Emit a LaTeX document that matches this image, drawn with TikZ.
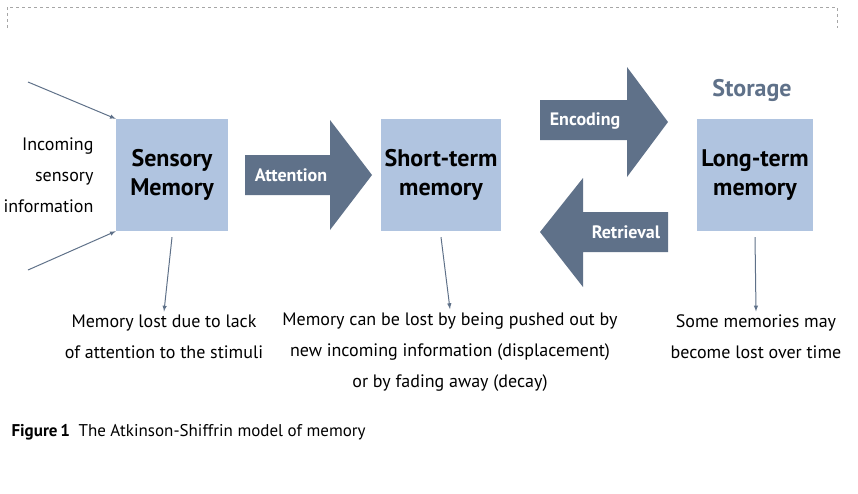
\documentclass[tikz,border=0pt]{standalone}
\usepackage{fontspec}
\setmainfont{PT Sans}
\usetikzlibrary{positioning}
\definecolor{boxblue}{HTML}{B0C4E0}
\definecolor{slate}{HTML}{5F7189}
\begin{document}
\begin{tikzpicture}[x=1pt,y=-1pt,
	memory/.style={fill=boxblue, minimum width=112pt, minimum height=112pt, align=center, font=\fontsize{24}{29}\selectfont\bfseries},
	arrowtext/.style={text=white, font=\fontsize{18}{20}\selectfont\bfseries},
	note/.style={align=center, font=\fontsize{18}{31}\selectfont},
	thin/.style={->, slate, line width=1pt, >=latex}]
	
	\useasboundingbox (0,0) rectangle (858,493);
	\draw [dashed, gray!70] (7,28) -- (7,7) -- (837,7) -- (837,28);
	
	\node [memory] at (172, 175) (sensory){Sensory\\Memory};
	\node [memory] at (441, 175) (short){Short-term\\memory};
	\node [memory, minimum width=116pt] at (755, 175) (long){Long-term\\memory};
	\node [text=slate, font=\fontsize{24}{28}\selectfont\bfseries] at (752, 90) (storage){Storage};
	
	% big arrows
	\fill [slate] (245,155) -- (330,155) -- (330,120) -- (372,175) -- (330,230) -- (330,195) -- (245,195) -- cycle;
	\fill [slate] (540,100) -- (627,100) -- (627,67) -- (668,122) -- (627,177) -- (627,140) -- (540,140) -- cycle;
	\fill [slate] (668,212) -- (583,212) -- (583,178) -- (540,232) -- (583,287) -- (583,252) -- (668,252) -- cycle;
	\node [arrowtext] at (291, 175) (attention){Attention};
	\node [arrowtext] at (585, 121) (encoding){Encoding};
	\node [arrowtext] at (626, 232) (retrieval){Retrieval};
	
	% incoming
	\node [note, align=right, anchor=east, font=\fontsize{18}{31}\selectfont] at (97, 175) (incoming){Incoming\\sensory\\information};
	\coordinate (in_top) at (28, 82);
	\coordinate (in_bot) at (28, 270);
	\draw [thin] (in_top) -- (sensory.north west);
	\draw [thin] (in_bot) -- (sensory.south west);
	
	\node [note] at (164, 337) (lost_sensory){Memory lost due to lack\\of attention to the stimuli};
	\node [note] at (450, 352) (lost_short){Memory can be lost by being pushed out by\\new incoming information (displacement)\\or by fading away (decay)};
	\node [note] at (756, 337) (lost_long){Some memories may\\become lost over time};
	
	\foreach \n in {sensory,short,long}{
		\draw [thin] ([yshift=-6pt]\n.south) -- (lost_\n.north);
	}
	
	\node [anchor=west, font=\fontsize{17}{20}\selectfont] at (8, 432) (caption){\textbf{Figure\,1}\enspace The Atkinson-Shiffrin model of memory};
	
\end{tikzpicture}
\end{document}
